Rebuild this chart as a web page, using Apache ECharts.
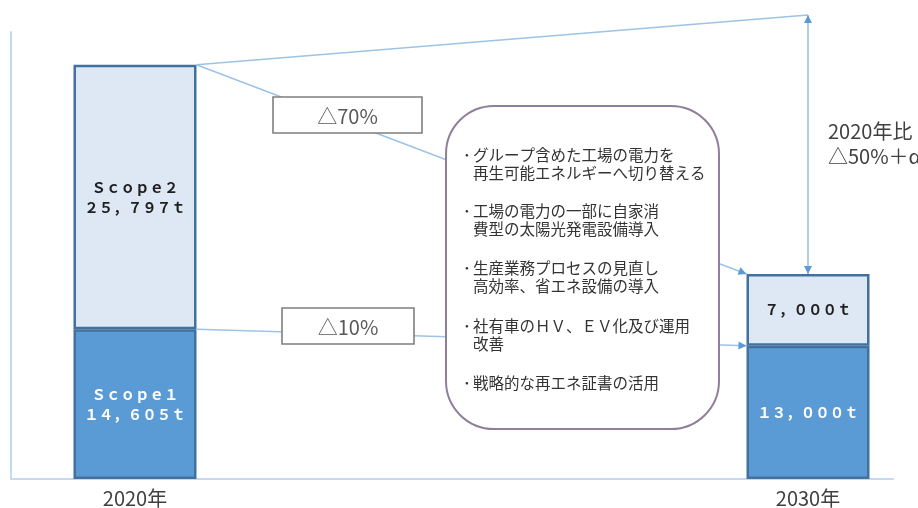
<!DOCTYPE html>
<html><head><meta charset="utf-8">
<script src="https://cdn.jsdelivr.net/npm/echarts@6/dist/echarts.min.js"></script>
<style>html,body{margin:0;padding:0;background:#fff}#c{width:918px;height:508px}</style>
</head><body><div id="c"></div>
<script>
const categories = ['2020年', '2030年'];
const years = [2020, 2030];
const scope1 = [14605, 13000];
const scope2 = [25797, 7000];
const scopeNames = ['Scope1', 'Scope2'];
const reductionLabels = ['△70%', '△10%'];
const targetLabel = ['2020年比', '△50%＋α'];
const measures = [
  ['グループ含めた工場の電力を', '再生可能エネルギーへ切り替える'],
  ['工場の電力の一部に自家消', '費型の太陽光発電設備導入'],
  ['生産業務プロセスの見直し', '高効率、省エネ設備の導入'],
  ['社有車のＨＶ、ＥＶ化及び運用', '改善'],
  ['戦略的な再エネ証書の活用']
];

const FONT = '"Noto Sans CJK JP", "Noto Sans", sans-serif';
const BAR_W = 123;
const LINE_C = '#9dc3e6';
const HEAD_C = '#5b9bd5';

function fw(s) { return s.replace(/[!-~]/g, c => String.fromCharCode(c.charCodeAt(0) + 0xFEE0)); }
function fmtVal(v) { return fw(v.toLocaleString('en-US') + 't'); }
function labelFor(nameIdx, vals) {
  return p => {
    const v = vals[p.dataIndex];
    return p.dataIndex === 0 ? fw(scopeNames[nameIdx]) + '\n' + fmtVal(v) : fmtVal(v);
  };
}

const chart = echarts.init(document.getElementById('c'), null, { renderer: 'canvas' });
const xMin = 2018.1575, xMax = 2031.263;

chart.setOption({
  animation: false,
  backgroundColor: '#fff',
  grid: { left: 11, right: 25, top: 32, bottom: 26, containLabel: false },
  xAxis: {
    type: 'value', min: xMin, max: xMax,
    axisLine: { show: true, onZero: false, lineStyle: { color: '#c5daf0', width: 2 } },
    axisTick: { show: false },
    splitLine: { show: false },
    axisLabel: {
      customValues: years,
      formatter: v => categories[years.indexOf(Math.round(v))] || '',
      fontSize: 20, color: '#404040', margin: 9, fontFamily: FONT
    }
  },
  yAxis: {
    type: 'value', min: 0, max: 43600,
    axisLine: { show: true, onZero: false, lineStyle: { color: '#c5daf0', width: 2 } },
    axisTick: { show: false }, axisLabel: { show: false }, splitLine: { show: false }
  },
  series: [
    {
      name: scopeNames[0], type: 'bar', stack: 't', barWidth: BAR_W,
      encode: { x: 1, y: 0 },
      data: years.map((y, i) => [scope1[i], y]),
      itemStyle: { color: '#5b9bd5', borderColor: '#41719c', borderWidth: 2.5 },
      label: { show: true, position: 'inside', color: '#fff', fontWeight: 'bold', fontSize: 14.5, lineHeight: 20, fontFamily: FONT, formatter: labelFor(0, scope1) }
    },
    {
      name: scopeNames[1], type: 'bar', stack: 't', barWidth: BAR_W,
      encode: { x: 1, y: 0 },
      data: years.map((y, i) => [scope2[i], y]),
      itemStyle: { color: '#dee8f5', borderColor: '#41719c', borderWidth: 2.5 },
      label: { show: true, position: 'inside', color: '#1f1f1f', fontWeight: 'bold', fontSize: 14.5, lineHeight: 20, fontFamily: FONT, formatter: labelFor(1, scope2) }
    }
  ]
});

const px = (x, y) => chart.convertToPixel({ xAxisIndex: 0, yAxisIndex: 0 }, [x, y]);
const half = BAR_W / 2;
const lTop = px(years[0], scope1[0] + scope2[0]);
const lMid = px(years[0], scope1[0]);
const rTop = px(years[1], scope1[1] + scope2[1]);
const rMid = px(years[1], scope1[1]);
const topY = 15;

function head(tip, from, z) {
  const dx = tip[0] - from[0], dy = tip[1] - from[1];
  const L = Math.hypot(dx, dy), ux = dx / L, uy = dy / L;
  const len = 8, w = 4;
  const bx = tip[0] - ux * len, by = tip[1] - uy * len;
  return { type: 'polygon', z: z || 5, shape: { points: [tip, [bx - uy * w, by + ux * w], [bx + uy * w, by - ux * w]] }, style: { fill: HEAD_C } };
}
function line(a, b, z) {
  return { type: 'line', z: z || 4, shape: { x1: a[0], y1: a[1], x2: b[0], y2: b[1] }, style: { stroke: LINE_C, lineWidth: 1.6 } };
}
function text(t, x, y, opt) {
  return { type: 'text', z: 20, style: Object.assign({ text: t, x: x, y: y, fill: '#404040', fontSize: 15.5, fontFamily: FONT, align: 'left', verticalAlign: 'middle' }, opt || {}) };
}

const g = [];
const a1 = [lTop[0] + half, lTop[1]], b1 = [rTop[0] - half, rTop[1]];
const a2 = [lMid[0] + half, lMid[1]], b2 = [rMid[0] - half, rMid[1]];
const apex = [rTop[0], topY];
g.push(line(a1, apex));
g.push(line(apex, [rTop[0], rTop[1]]));
g.push(head(apex, [rTop[0], rTop[1]]));
g.push(head([rTop[0], rTop[1]], apex));
g.push(line(a1, b1));
g.push(head(b1, a1));
g.push(line(a2, b2));
g.push(head(b2, a2));

// reduction boxes
const boxes = [
  { x: 273, y: 97, w: 149, h: 36 },
  { x: 282, y: 308, w: 132, h: 36 }
];
boxes.forEach((b, i) => {
  g.push({ type: 'rect', z: 10, shape: { x: b.x, y: b.y, width: b.w, height: b.h }, style: { fill: '#fff', stroke: '#7f7f7f', lineWidth: 1.6 } });
  g.push(text(reductionLabels[i], b.x + b.w / 2, b.y + b.h / 2 + 1, { align: 'center', fontSize: 20, fill: '#595959' }));
});

// callout
g.push({ type: 'rect', z: 10, shape: { x: 446, y: 106, width: 273, height: 323, r: 48 }, style: { fill: '#fff', stroke: '#8e7f9c', lineWidth: 2 } });
const itemY = [155, 211, 268, 326, 383];
measures.forEach((m, i) => {
  g.push(text('･', 463, itemY[i], { fontSize: 15.5, fill: '#333' }));
  m.forEach((t, j) => g.push(text(t, 473, itemY[i] + j * 18, { fontSize: 15.5, fill: '#333' })));
});

// target text
targetLabel.forEach((t, i) => g.push(text(t, 828, 131 + i * 25, { fontSize: 20 })));

chart.setOption({ graphic: { elements: g } });
</script>
</body></html>
